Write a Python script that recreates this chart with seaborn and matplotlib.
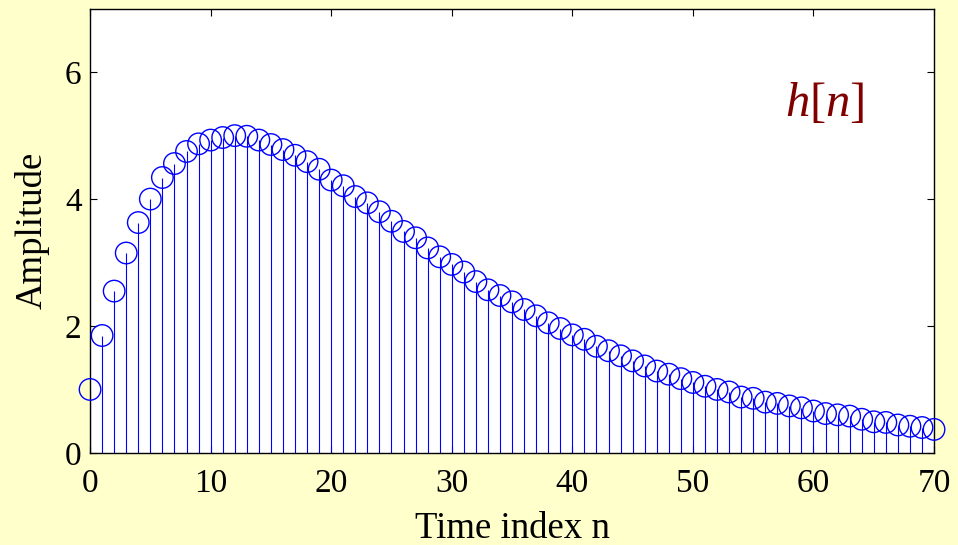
import matplotlib
matplotlib.use("Agg")
import matplotlib.pyplot as plt
import numpy as np
import seaborn as sns

# time index and impulse response values
n = np.arange(0, 71)
h = [1.00, 1.85, 2.55, 3.15, 3.63, 4.00, 4.34, 4.56, 4.75, 4.87,
     4.93, 4.97, 5.00, 4.99, 4.93, 4.86, 4.78, 4.69, 4.59, 4.47,
     4.30, 4.21, 4.04, 3.94, 3.80, 3.65, 3.49, 3.39, 3.23, 3.09,
     2.97, 2.85, 2.70, 2.57, 2.48, 2.38, 2.26, 2.16, 2.05, 1.96,
     1.86, 1.79, 1.68, 1.61, 1.53, 1.45, 1.37, 1.29, 1.24, 1.17,
     1.11, 1.05, 1.00, 0.96, 0.88, 0.86, 0.80, 0.78, 0.74, 0.71,
     0.66, 0.62, 0.60, 0.58, 0.53, 0.49, 0.48, 0.44, 0.42, 0.40,
     0.37]
xticks = [0, 10, 20, 30, 40, 50, 60, 70]
yticks = [0, 2, 4, 6]

sns.set_theme(style="ticks")
plt.rcParams['font.family'] = ['Liberation Serif', 'DejaVu Serif']
plt.rcParams['text.color'] = 'black'
plt.rcParams['axes.labelcolor'] = 'black'
plt.rcParams['mathtext.fontset'] = 'custom'
plt.rcParams['mathtext.rm'] = 'Liberation Serif'
plt.rcParams['mathtext.it'] = 'Liberation Serif:italic'

fig = plt.figure(figsize=(9.58, 5.45), dpi=100, facecolor='#ffffcc')
ax = fig.add_axes([0.094, 0.169, 0.881, 0.815])
ax.set_facecolor('white')

# stems, then open circle markers
ax.vlines(n, 0, h, color='blue', linewidth=0.8)
sns.scatterplot(x=n, y=h, ax=ax, marker='o', s=240, facecolors='none',
                edgecolor='blue', linewidth=1.0, zorder=3, clip_on=False)

ax.set_xlim(0, 70)
ax.set_ylim(0, 7)
ax.set_xticks(xticks)
ax.set_yticks(yticks)
ax.tick_params(direction='in', length=5, width=0.8, top=True, right=True,
               labelsize=24, colors='black')
ax.tick_params(axis='x', pad=11)
ax.tick_params(axis='y', pad=6)
for s in ax.spines.values():
    s.set_color('black')
    s.set_linewidth(1.0)

ax.set_xlabel('Time index n', fontsize=26.5, labelpad=9)
ax.set_ylabel('Amplitude', fontsize=26.5, labelpad=11)

ax.text(0.823, 0.759, r'$h[n]$', transform=ax.transAxes, fontsize=35,
        color='#800000', va='baseline')

fig.savefig('out.png', dpi=100, facecolor=fig.get_facecolor())
